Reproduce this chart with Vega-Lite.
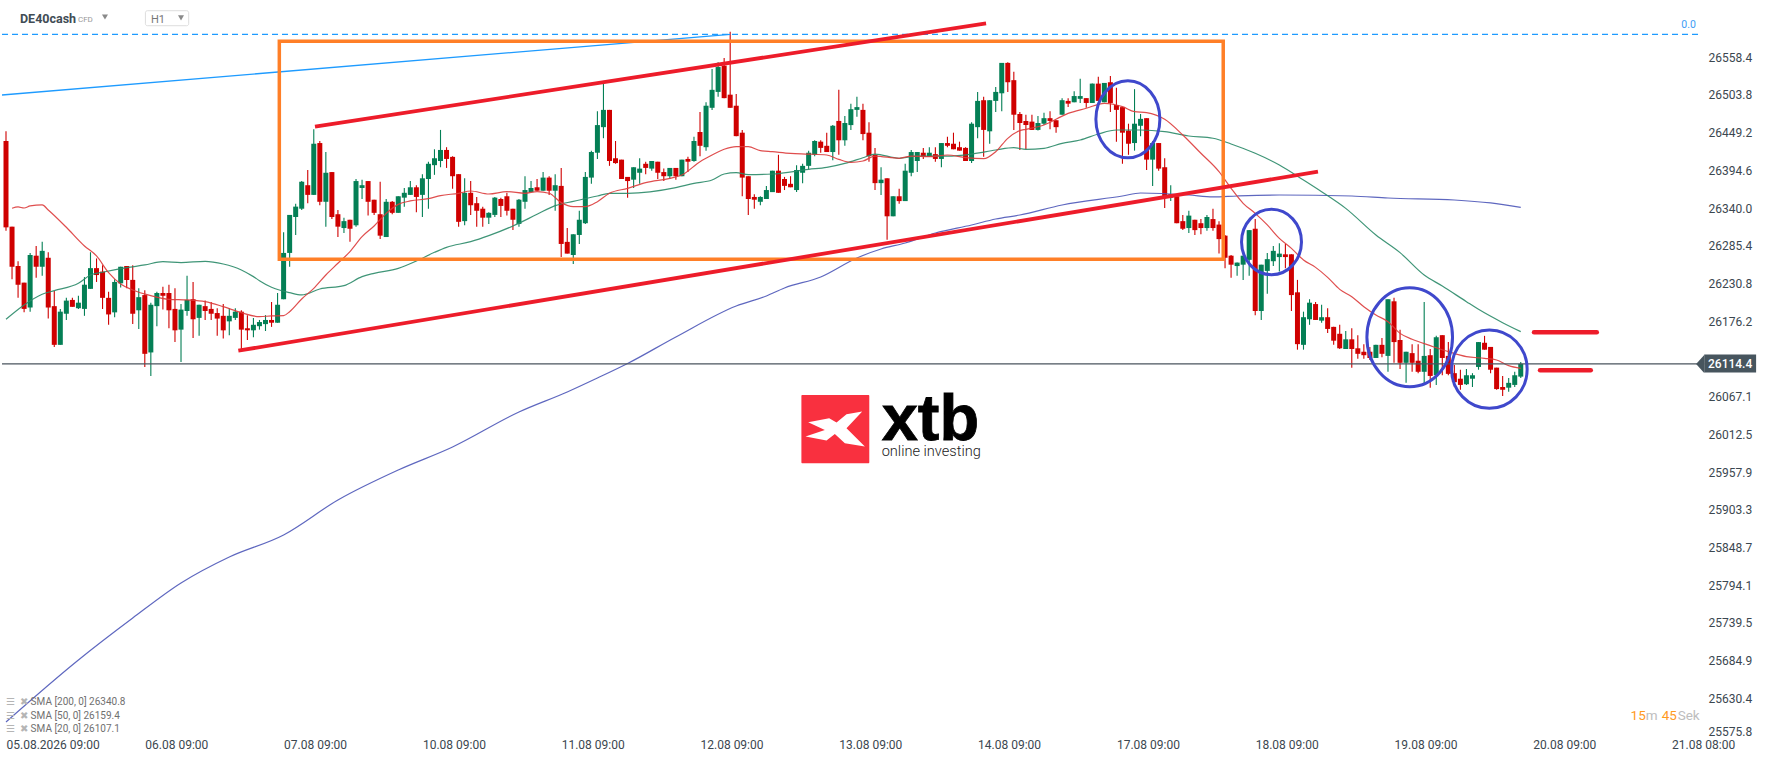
{"$schema":"https://vega.github.io/schema/vega-lite/v6.json","width":1768,"height":761,"padding":0,"autosize":{"type":"none"},"background":"#ffffff","config":{"view":{"stroke":null},"text":{"font":"Roboto"},"axis":{"labelFont":"Roboto"}},
"datasets":{"candles":[
{"i":0,"h":26451,"o":26437,"c":26312,"l":26307},{"i":1,"h":26313,"o":26313,"c":26255,"l":26237},{"i":2,"h":26263,"o":26256,"c":26229,"l":26210},{"i":3,"h":26232,"o":26232,"c":26194,"l":26189},{"i":4,"h":26275,"o":26196,"c":26272,"l":26190},{"i":5,"h":26285,"o":26271,"c":26255,"l":26239},{"i":6,"h":26291,"o":26255,"c":26278,"l":26242},{"i":7,"h":26276,"o":26268,"c":26196,"l":26180},{"i":8,"h":26220,"o":26198,"c":26142,"l":26139},{"i":9,"h":26194,"o":26142,"c":26190,"l":26142},
{"i":10,"h":26210,"o":26187,"c":26206,"l":26178},{"i":11,"h":26210,"o":26207,"c":26197,"l":26197},{"i":12,"h":26213,"o":26195,"c":26203,"l":26194},{"i":13,"h":26240,"o":26194,"c":26229,"l":26184},{"i":14,"h":26276,"o":26223,"c":26253,"l":26223},{"i":15,"h":26267,"o":26253,"c":26243,"l":26233},{"i":16,"h":26257,"o":26248,"c":26210,"l":26194},{"i":17,"h":26219,"o":26210,"c":26186,"l":26171},{"i":18,"h":26237,"o":26189,"c":26233,"l":26182},{"i":19,"h":26255,"o":26231,"c":26255,"l":26225},
{"i":20,"h":26256,"o":26256,"c":26236,"l":26224},{"i":21,"h":26257,"o":26236,"c":26187,"l":26172},{"i":22,"h":26224,"o":26192,"c":26211,"l":26165},{"i":23,"h":26221,"o":26214,"c":26129,"l":26110},{"i":24,"h":26203,"o":26131,"c":26200,"l":26097},{"i":25,"h":26219,"o":26198,"c":26217,"l":26169},{"i":26,"h":26226,"o":26217,"c":26213,"l":26193},{"i":27,"h":26229,"o":26217,"c":26192,"l":26166},{"i":28,"h":26224,"o":26194,"c":26163,"l":26146},{"i":29,"h":26201,"o":26164,"c":26193,"l":26117},
{"i":30,"h":26242,"o":26191,"c":26207,"l":26184},{"i":31,"h":26233,"o":26208,"c":26179,"l":26152},{"i":32,"h":26200,"o":26181,"c":26200,"l":26155},{"i":33,"h":26206,"o":26198,"c":26191,"l":26178},{"i":34,"h":26204,"o":26194,"c":26187,"l":26178},{"i":35,"h":26195,"o":26188,"c":26180,"l":26155},{"i":36,"h":26201,"o":26184,"c":26163,"l":26151},{"i":37,"h":26195,"o":26176,"c":26184,"l":26156},{"i":38,"h":26195,"o":26181,"c":26190,"l":26178},{"i":39,"h":26192,"o":26190,"c":26164,"l":26135},
{"i":40,"h":26185,"o":26166,"c":26163,"l":26149},{"i":41,"h":26181,"o":26163,"c":26171,"l":26153},{"i":42,"h":26178,"o":26169,"c":26175,"l":26164},{"i":43,"h":26185,"o":26172,"c":26178,"l":26162},{"i":44,"h":26204,"o":26178,"c":26174,"l":26168},{"i":45,"h":26217,"o":26174,"c":26200,"l":26174},{"i":46,"h":26305,"o":26208,"c":26275,"l":26208},{"i":47,"h":26330,"o":26275,"c":26330,"l":26255},{"i":48,"h":26346,"o":26327,"c":26342,"l":26301},{"i":49,"h":26379,"o":26339,"c":26378,"l":26337},
{"i":50,"h":26395,"o":26373,"c":26359,"l":26347},{"i":51,"h":26454,"o":26359,"c":26433,"l":26359},{"i":52,"h":26437,"o":26434,"c":26349,"l":26344},{"i":53,"h":26421,"o":26349,"c":26391,"l":26313},{"i":54,"h":26392,"o":26392,"c":26327,"l":26324},{"i":55,"h":26337,"o":26331,"c":26313,"l":26298},{"i":56,"h":26326,"o":26311,"c":26321,"l":26304},{"i":57,"h":26323,"o":26323,"c":26310,"l":26291},{"i":58,"h":26382,"o":26315,"c":26379,"l":26313},{"i":59,"h":26381,"o":26369,"c":26373,"l":26353},
{"i":60,"h":26379,"o":26379,"c":26349,"l":26329},{"i":61,"h":26352,"o":26352,"c":26333,"l":26330},{"i":62,"h":26378,"o":26331,"c":26300,"l":26295},{"i":63,"h":26353,"o":26298,"c":26349,"l":26298},{"i":64,"h":26350,"o":26349,"c":26333,"l":26331},{"i":65,"h":26357,"o":26333,"c":26357,"l":26333},{"i":66,"h":26369,"o":26355,"c":26362,"l":26342},{"i":67,"h":26379,"o":26359,"c":26370,"l":26359},{"i":68,"h":26373,"o":26370,"c":26356,"l":26334},{"i":69,"h":26389,"o":26359,"c":26383,"l":26327},
{"i":70,"h":26407,"o":26382,"c":26404,"l":26339},{"i":71,"h":26425,"o":26402,"c":26412,"l":26388},{"i":72,"h":26453,"o":26408,"c":26424,"l":26399},{"i":73,"h":26428,"o":26424,"c":26411,"l":26398},{"i":74,"h":26415,"o":26414,"c":26386,"l":26368},{"i":75,"h":26389,"o":26389,"c":26320,"l":26313},{"i":76,"h":26383,"o":26321,"c":26362,"l":26315},{"i":77,"h":26379,"o":26362,"c":26344,"l":26330},{"i":78,"h":26356,"o":26347,"c":26336,"l":26313},{"i":79,"h":26342,"o":26339,"c":26326,"l":26313},
{"i":80,"h":26334,"o":26326,"c":26333,"l":26317},{"i":81,"h":26356,"o":26330,"c":26355,"l":26327},{"i":82,"h":26355,"o":26353,"c":26343,"l":26327},{"i":83,"h":26362,"o":26357,"c":26336,"l":26329},{"i":84,"h":26339,"o":26339,"c":26323,"l":26308},{"i":85,"h":26353,"o":26317,"c":26352,"l":26313},{"i":86,"h":26386,"o":26349,"c":26366,"l":26339},{"i":87,"h":26379,"o":26363,"c":26369,"l":26363},{"i":88,"h":26382,"o":26370,"c":26365,"l":26365},{"i":89,"h":26392,"o":26365,"c":26384,"l":26365},
{"i":90,"h":26386,"o":26384,"c":26365,"l":26359},{"i":91,"h":26389,"o":26365,"c":26373,"l":26336},{"i":92,"h":26398,"o":26372,"c":26288,"l":26269},{"i":93,"h":26311,"o":26291,"c":26274,"l":26274},{"i":94,"h":26302,"o":26272,"c":26302,"l":26259},{"i":95,"h":26336,"o":26301,"c":26323,"l":26288},{"i":96,"h":26392,"o":26318,"c":26385,"l":26317},{"i":97,"h":26423,"o":26384,"c":26421,"l":26375},{"i":98,"h":26480,"o":26420,"c":26460,"l":26411},{"i":99,"h":26520,"o":26457,"c":26482,"l":26441},
{"i":100,"h":26482,"o":26482,"c":26408,"l":26401},{"i":101,"h":26437,"o":26412,"c":26405,"l":26404},{"i":102,"h":26410,"o":26410,"c":26382,"l":26382},{"i":103,"h":26385,"o":26385,"c":26379,"l":26355},{"i":104,"h":26399,"o":26381,"c":26399,"l":26369},{"i":105,"h":26412,"o":26391,"c":26397,"l":26375},{"i":106,"h":26407,"o":26404,"c":26398,"l":26389},{"i":107,"h":26408,"o":26397,"c":26408,"l":26394},{"i":108,"h":26407,"o":26407,"c":26391,"l":26382},{"i":109,"h":26397,"o":26392,"c":26386,"l":26379},
{"i":110,"h":26398,"o":26386,"c":26398,"l":26382},{"i":111,"h":26398,"o":26398,"c":26386,"l":26381},{"i":112,"h":26410,"o":26386,"c":26410,"l":26386},{"i":113,"h":26414,"o":26411,"c":26407,"l":26392},{"i":114,"h":26443,"o":26408,"c":26437,"l":26407},{"i":115,"h":26479,"o":26450,"c":26430,"l":26415},{"i":116,"h":26493,"o":26428,"c":26488,"l":26423},{"i":117,"h":26541,"o":26485,"c":26511,"l":26482},{"i":118,"h":26551,"o":26508,"c":26544,"l":26501},{"i":119,"h":26557,"o":26546,"c":26499,"l":26499},
{"i":120,"h":26595,"o":26504,"c":26485,"l":26485},{"i":121,"h":26505,"o":26488,"c":26444,"l":26444},{"i":122,"h":26453,"o":26449,"c":26384,"l":26357},{"i":123,"h":26386,"o":26386,"c":26353,"l":26330},{"i":124,"h":26360,"o":26356,"c":26352,"l":26339},{"i":125,"h":26357,"o":26349,"c":26356,"l":26344},{"i":126,"h":26372,"o":26353,"c":26366,"l":26353},{"i":127,"h":26394,"o":26363,"c":26394,"l":26363},{"i":128,"h":26417,"o":26394,"c":26362,"l":26362},{"i":129,"h":26385,"o":26382,"c":26372,"l":26366},
{"i":130,"h":26386,"o":26375,"c":26370,"l":26370},{"i":131,"h":26402,"o":26366,"c":26395,"l":26363},{"i":132,"h":26404,"o":26391,"c":26401,"l":26376},{"i":133,"h":26423,"o":26401,"c":26420,"l":26396},{"i":134,"h":26438,"o":26417,"c":26437,"l":26415},{"i":135,"h":26438,"o":26436,"c":26427,"l":26420},{"i":136,"h":26449,"o":26430,"c":26421,"l":26421},{"i":137,"h":26460,"o":26421,"c":26459,"l":26409},{"i":138,"h":26511,"o":26466,"c":26438,"l":26417},{"i":139,"h":26473,"o":26438,"c":26463,"l":26430},
{"i":140,"h":26491,"o":26460,"c":26483,"l":26453},{"i":141,"h":26501,"o":26482,"c":26486,"l":26472},{"i":142,"h":26491,"o":26482,"c":26447,"l":26438},{"i":143,"h":26464,"o":26449,"c":26415,"l":26407},{"i":144,"h":26427,"o":26417,"c":26376,"l":26366},{"i":145,"h":26399,"o":26376,"c":26381,"l":26359},{"i":146,"h":26383,"o":26383,"c":26328,"l":26294},{"i":147,"h":26357,"o":26328,"c":26357,"l":26328},{"i":148,"h":26368,"o":26357,"c":26350,"l":26346},{"i":149,"h":26404,"o":26350,"c":26394,"l":26350},
{"i":150,"h":26424,"o":26391,"c":26421,"l":26386},{"i":151,"h":26421,"o":26408,"c":26421,"l":26392},{"i":152,"h":26427,"o":26420,"c":26414,"l":26411},{"i":153,"h":26428,"o":26414,"c":26420,"l":26414},{"i":154,"h":26428,"o":26418,"c":26411,"l":26407},{"i":155,"h":26434,"o":26411,"c":26434,"l":26399},{"i":156,"h":26443,"o":26434,"c":26430,"l":26428},{"i":157,"h":26449,"o":26433,"c":26425,"l":26425},{"i":158,"h":26436,"o":26428,"c":26423,"l":26423},{"i":159,"h":26428,"o":26427,"c":26408,"l":26408},
{"i":160,"h":26464,"o":26408,"c":26462,"l":26405},{"i":161,"h":26508,"o":26457,"c":26495,"l":26441},{"i":162,"h":26501,"o":26496,"c":26453,"l":26414},{"i":163,"h":26496,"o":26451,"c":26496,"l":26433},{"i":164,"h":26515,"o":26495,"c":26508,"l":26479},{"i":165,"h":26550,"o":26506,"c":26550,"l":26480},{"i":166,"h":26551,"o":26550,"c":26522,"l":26508},{"i":167,"h":26537,"o":26525,"c":26475,"l":26453},{"i":168,"h":26479,"o":26476,"c":26463,"l":26424},{"i":169,"h":26475,"o":26466,"c":26460,"l":26425},
{"i":170,"h":26475,"o":26465,"c":26453,"l":26453},{"i":171,"h":26473,"o":26453,"c":26463,"l":26452},{"i":172,"h":26478,"o":26462,"c":26470,"l":26460},{"i":173,"h":26480,"o":26470,"c":26466,"l":26454},{"i":174,"h":26467,"o":26467,"c":26457,"l":26449},{"i":175,"h":26499,"o":26475,"c":26496,"l":26475},{"i":176,"h":26499,"o":26495,"c":26491,"l":26486},{"i":177,"h":26509,"o":26493,"c":26502,"l":26493},{"i":178,"h":26527,"o":26498,"c":26502,"l":26492},{"i":179,"h":26499,"o":26499,"c":26492,"l":26485},
{"i":180,"h":26520,"o":26492,"c":26520,"l":26492},{"i":181,"h":26530,"o":26520,"c":26495,"l":26495},{"i":182,"h":26521,"o":26493,"c":26521,"l":26493},{"i":183,"h":26531,"o":26522,"c":26492,"l":26479},{"i":184,"h":26514,"o":26489,"c":26482,"l":26436},{"i":185,"h":26486,"o":26486,"c":26449,"l":26404},{"i":186,"h":26462,"o":26452,"c":26433,"l":26417},{"i":187,"h":26512,"o":26434,"c":26462,"l":26423},{"i":188,"h":26476,"o":26459,"c":26469,"l":26444},{"i":189,"h":26470,"o":26470,"c":26410,"l":26395},
{"i":190,"h":26437,"o":26410,"c":26434,"l":26372},{"i":191,"h":26434,"o":26434,"c":26397,"l":26394},{"i":192,"h":26412,"o":26399,"c":26357,"l":26340},{"i":193,"h":26373,"o":26355,"c":26360,"l":26350},{"i":194,"h":26357,"o":26357,"c":26318,"l":26318},{"i":195,"h":26330,"o":26321,"c":26310,"l":26308},{"i":196,"h":26336,"o":26311,"c":26329,"l":26304},{"i":197,"h":26323,"o":26323,"c":26308,"l":26301},{"i":198,"h":26324,"o":26318,"c":26311,"l":26302},{"i":199,"h":26330,"o":26311,"c":26327,"l":26307},
{"i":200,"h":26339,"o":26324,"c":26311,"l":26307},{"i":201,"h":26321,"o":26316,"c":26295,"l":26274},{"i":202,"h":26301,"o":26300,"c":26268,"l":26253},{"i":203,"h":26272,"o":26271,"c":26258,"l":26239},{"i":204,"h":26261,"o":26256,"c":26261,"l":26242},{"i":205,"h":26271,"o":26258,"c":26271,"l":26236},{"i":206,"h":26308,"o":26265,"c":26308,"l":26242},{"i":207,"h":26324,"o":26310,"c":26191,"l":26185},{"i":208,"h":26258,"o":26191,"c":26258,"l":26178},{"i":209,"h":26275,"o":26249,"c":26266,"l":26216},
{"i":210,"h":26285,"o":26263,"c":26278,"l":26256},{"i":211,"h":26289,"o":26269,"c":26274,"l":26248},{"i":212,"h":26288,"o":26273,"c":26269,"l":26253},{"i":213,"h":26273,"o":26273,"c":26214,"l":26191},{"i":214,"h":26236,"o":26218,"c":26143,"l":26135},{"i":215,"h":26190,"o":26142,"c":26182,"l":26135},{"i":216,"h":26208,"o":26179,"c":26203,"l":26171},{"i":217,"h":26204,"o":26201,"c":26178,"l":26178},{"i":218,"h":26200,"o":26177,"c":26182,"l":26174},{"i":219,"h":26195,"o":26182,"c":26165,"l":26159},
{"i":220,"h":26168,"o":26168,"c":26148,"l":26142},{"i":221,"h":26171,"o":26158,"c":26137,"l":26136},{"i":222,"h":26162,"o":26136,"c":26150,"l":26136},{"i":223,"h":26166,"o":26150,"c":26136,"l":26109},{"i":224,"h":26156,"o":26137,"c":26129,"l":26122},{"i":225,"h":26143,"o":26132,"c":26127,"l":26122},{"i":226,"h":26139,"o":26132,"c":26123,"l":26120},{"i":227,"h":26142,"o":26123,"c":26142,"l":26123},{"i":228,"h":26152,"o":26142,"c":26129,"l":26124},{"i":229,"h":26208,"o":26126,"c":26208,"l":26103},
{"i":230,"h":26210,"o":26205,"c":26146,"l":26116},{"i":231,"h":26164,"o":26149,"c":26116,"l":26107},{"i":232,"h":26132,"o":26116,"c":26132,"l":26087},{"i":233,"h":26143,"o":26130,"c":26116,"l":26103},{"i":234,"h":26143,"o":26119,"c":26103,"l":26101},{"i":235,"h":26204,"o":26103,"c":26126,"l":26084},{"i":236,"h":26136,"o":26127,"c":26097,"l":26080},{"i":237,"h":26155,"o":26098,"c":26153,"l":26084},{"i":238,"h":26156,"o":26156,"c":26123,"l":26098},{"i":239,"h":26146,"o":26126,"c":26100,"l":26098},
{"i":240,"h":26113,"o":26101,"c":26088,"l":26081},{"i":241,"h":26106,"o":26093,"c":26084,"l":26077},{"i":242,"h":26107,"o":26085,"c":26098,"l":26084},{"i":243,"h":26101,"o":26093,"c":26098,"l":26081},{"i":244,"h":26146,"o":26110,"c":26146,"l":26106},{"i":245,"h":26155,"o":26145,"c":26135,"l":26135},{"i":246,"h":26139,"o":26139,"c":26106,"l":26101},{"i":247,"h":26109,"o":26109,"c":26078,"l":26077},{"i":248,"h":26097,"o":26081,"c":26077,"l":26068},{"i":249,"h":26094,"o":26080,"c":26087,"l":26074},
{"i":250,"h":26103,"o":26084,"c":26098,"l":26081},{"i":251,"h":26117,"o":26096,"c":26114.4,"l":26094}],
"sma20":[{"i":1,"v":26339.6},{"i":2,"v":26341.5},{"i":3,"v":26340},{"i":4,"v":26343},{"i":6,"v":26344.4},{"i":7,"v":26337.2},{"i":10,"v":26312.1},{"i":13,"v":26285.1},{"i":15,"v":26270.6},{"i":17,"v":26246.5},{"i":19,"v":26230.1},{"i":21,"v":26221.4},{"i":24,"v":26213.2},{"i":27,"v":26207.9},{"i":30,"v":26207},{"i":33,"v":26204.6},{"i":36,"v":26197.3},{"i":39,"v":26188.6},{"i":42,"v":26182.8},{"i":44,"v":26183.8},{"i":46,"v":26184.3},{"i":47,"v":26190},{"i":49,"v":26208.4},{"i":51,"v":26223.8},{"i":53,"v":26243.1},{"i":55,"v":26260},{"i":57,"v":26276.9},{"i":59,"v":26298.6},{"i":61,"v":26314},{"i":63,"v":26332.3},{"i":65,"v":26345.3},{"i":67,"v":26350.2},{"i":70,"v":26353.5},{"i":72,"v":26357.9},{"i":75,"v":26361.3},{"i":77,"v":26364.6},{"i":80,"v":26360.3},{"i":83,"v":26363.7},{"i":86,"v":26361.3},{"i":88,"v":26363.7},{"i":90,"v":26361.3},{"i":92,"v":26347.8},{"i":94,"v":26342},{"i":96,"v":26342},{"i":98,"v":26349.2},{"i":100,"v":26361.3},{"i":103,"v":26368.5},{"i":106,"v":26376.7},{"i":110,"v":26383},{"i":112,"v":26387.8},{"i":115,"v":26407.1},{"i":117,"v":26416.7},{"i":119,"v":26425},{"i":121,"v":26428.8},{"i":123,"v":26428.8},{"i":125,"v":26423},{"i":127,"v":26421.5},{"i":130,"v":26419.1},{"i":133,"v":26418.1},{"i":136,"v":26416.7},{"i":138,"v":26410.4},{"i":140,"v":26406.1},{"i":142,"v":26408},{"i":144,"v":26415.2},{"i":148,"v":26411.9},{"i":150,"v":26415.2},{"i":153,"v":26414.3},{"i":156,"v":26416.7},{"i":159,"v":26412.8},{"i":162,"v":26411.4},{"i":164,"v":26421.5},{"i":166,"v":26440.8},{"i":168,"v":26451.9},{"i":169,"v":26453.9},{"i":172,"v":26460.1},{"i":176,"v":26477},{"i":179,"v":26484.3},{"i":182,"v":26491.5},{"i":185,"v":26486.7},{"i":187,"v":26479.4},{"i":189,"v":26478},{"i":192,"v":26468.4},{"i":195,"v":26445.7},{"i":198,"v":26419.2},{"i":201,"v":26392.6},{"i":203,"v":26368.5},{"i":205,"v":26346.8},{"i":207,"v":26332.3},{"i":209,"v":26315.5},{"i":211,"v":26296.1},{"i":213,"v":26281.6},{"i":215,"v":26264.8},{"i":217,"v":26254.1},{"i":219,"v":26239.7},{"i":221,"v":26222.3},{"i":223,"v":26211.7},{"i":225,"v":26197.2},{"i":227,"v":26185.2},{"i":229,"v":26175.5},{"i":231,"v":26158.6},{"i":233,"v":26150},{"i":236,"v":26140.8},{"i":239,"v":26132.1},{"i":242,"v":26124.9},{"i":245,"v":26122.5},{"i":247,"v":26120.1},{"i":249,"v":26111.9},{"i":251,"v":26108}],
"sma50":[{"i":0,"v":26179},{"i":3,"v":26199.7},{"i":6,"v":26215.2},{"i":8,"v":26220.5},{"i":12,"v":26231.1},{"i":14,"v":26243.1},{"i":16,"v":26247},{"i":20,"v":26253.7},{"i":23,"v":26257.6},{"i":26,"v":26262.4},{"i":29,"v":26261},{"i":33,"v":26262.9},{"i":36,"v":26259},{"i":39,"v":26250.4},{"i":41,"v":26240.7},{"i":42,"v":26234.9},{"i":44,"v":26225.3},{"i":47,"v":26217.5},{"i":49,"v":26214.2},{"i":52,"v":26222.8},{"i":56,"v":26227.7},{"i":59,"v":26240.7},{"i":61,"v":26245.5},{"i":65,"v":26252.7},{"i":68,"v":26263.3},{"i":71,"v":26275.9},{"i":73,"v":26283.1},{"i":77,"v":26291.3},{"i":80,"v":26300},{"i":84,"v":26314},{"i":88,"v":26330.9},{"i":91,"v":26343.4},{"i":94,"v":26349.7},{"i":98,"v":26357.4},{"i":100,"v":26361.3},{"i":103,"v":26361.3},{"i":111,"v":26369.5},{"i":114,"v":26375.7},{"i":117,"v":26380.6},{"i":119,"v":26389.2},{"i":121,"v":26391.2},{"i":123,"v":26388.3},{"i":127,"v":26389.2},{"i":133,"v":26395.9},{"i":136,"v":26398.8},{"i":139,"v":26404.6},{"i":142,"v":26412.8},{"i":144,"v":26418.1},{"i":148,"v":26411.9},{"i":151,"v":26415.2},{"i":156,"v":26415.2},{"i":160,"v":26418.1},{"i":164,"v":26423.9},{"i":167,"v":26427.3},{"i":169,"v":26424.9},{"i":172,"v":26426.4},{"i":175,"v":26433.6},{"i":178,"v":26438.4},{"i":181,"v":26447.1},{"i":184,"v":26452.9},{"i":188,"v":26452.9},{"i":192,"v":26450.5},{"i":196,"v":26444.2},{"i":200,"v":26440.9},{"i":203,"v":26432.7},{"i":207,"v":26419.2},{"i":211,"v":26402.3},{"i":215,"v":26380.5},{"i":218,"v":26363.6},{"i":222,"v":26339.5},{"i":227,"v":26300.9},{"i":231,"v":26275.4},{"i":235,"v":26243},{"i":238,"v":26227.1},{"i":242,"v":26204.5},{"i":244,"v":26193.4},{"i":248,"v":26174.1},{"i":251,"v":26161.1}],
"sma200":[{"i":0,"v":25596.3},{"i":12,"v":25686},{"i":21,"v":25746.7},{"i":29,"v":25797.4},{"i":37,"v":25835},{"i":46,"v":25866.9},{"i":55,"v":25917.5},{"i":65,"v":25960.9},{"i":74,"v":25994.2},{"i":85,"v":26044.8},{"i":93,"v":26073.8},{"i":98,"v":26094},{"i":103,"v":26115},{"i":111,"v":26153.4},{"i":121,"v":26198.2},{"i":126,"v":26212.7},{"i":129,"v":26224.3},{"i":135,"v":26240.2},{"i":141,"v":26267.7},{"i":145,"v":26280.7},{"i":149,"v":26289.4},{"i":154,"v":26303.8},{"i":160,"v":26315.4},{"i":164,"v":26324.1},{"i":168,"v":26329.9},{"i":175,"v":26344.4},{"i":185,"v":26357.4},{"i":188,"v":26361.7},{"i":196,"v":26358.8},{"i":200,"v":26356},{"i":204,"v":26357.4},{"i":211,"v":26358.8},{"i":223,"v":26357.4},{"i":229,"v":26354.5},{"i":240,"v":26351.6},{"i":246,"v":26347.3},{"i":251,"v":26341}]},
"layer":[
{"data":{"name":"candles"},"mark":{"type":"rule","strokeWidth":1.1},"encoding":{"x":{"field":"i","type":"quantitative","scale":{"domain":[-0.994,291.97],"nice":false,"zero":false,"padding":0},"axis":{"orient":"bottom","offset":-16.3,"title":null,"grid":false,"domain":false,"ticks":false,"labelPadding":0,"labelAlign":"left","labelBaseline":"middle","labelFontSize":12,"labelColor":"#3b4750","labelOverlap":false,"labelFlush":false,"labelBound":false,"values":[0,23,46,69,92,115,138,161,184,207,230,253,276],"labelExpr":"{'0':'05.08.2026 09:00','23':'06.08 09:00','46':'07.08 09:00','69':'10.08 09:00','92':'11.08 09:00','115':'12.08 09:00','138':'13.08 09:00','161':'14.08 09:00','184':'17.08 09:00','207':'18.08 09:00','230':'19.08 09:00','253':'20.08 09:00','276':'21.08 08:00'}[''+datum.value]"}},"y":{"field":"h","type":"quantitative","scale":{"domain":[25539.8,26641],"nice":false,"zero":false},"axis":{"orient":"right","offset":-60,"title":null,"grid":false,"domain":false,"ticks":false,"labelPadding":0,"labelAlign":"left","labelFontSize":12,"labelColor":"#3b4750","labelOverlap":false,"labelFlush":false,"labelBound":false,"values":[25582,25630.4,25684.9,25739.5,25794.1,25848.7,25903.3,25957.9,26012.5,26067.1,26176.2,26230.8,26285.4,26340,26394.6,26449.2,26503.8,26558.4],"labelExpr":"datum.value==25582?'25575.8':format(datum.value,'.1f')"}},"y2":{"field":"l"},"color":{"condition":{"test":"datum.c>=datum.o","value":"#047f55"},"value":"#cf0000"}}},
{"data":{"name":"candles"},"mark":{"type":"bar","size":5},"encoding":{"x":{"field":"i","type":"quantitative"},"y":{"field":"o","type":"quantitative"},"y2":{"field":"c"},"color":{"condition":{"test":"datum.c>=datum.o","value":"#047f55"},"value":"#cf0000"}}},
{"data":{"name":"sma200"},"mark":{"type":"line","stroke":"#4c56b8","strokeWidth":1.2,"opacity":0.9,"interpolate":"monotone"},"encoding":{"x":{"field":"i","type":"quantitative"},"y":{"field":"v","type":"quantitative"}}},
{"data":{"name":"sma50"},"mark":{"type":"line","stroke":"#2a8a68","strokeWidth":1.2,"opacity":0.9,"interpolate":"monotone"},"encoding":{"x":{"field":"i","type":"quantitative"},"y":{"field":"v","type":"quantitative"}}},
{"data":{"name":"sma20"},"mark":{"type":"line","stroke":"#dc3b3b","strokeWidth":1.2,"opacity":0.9,"interpolate":"monotone"},"encoding":{"x":{"field":"i","type":"quantitative"},"y":{"field":"v","type":"quantitative"}}},
{"data":{"values":[{"a":-0.66,"b":120,"p":26503.5,"q":26591.4}]},"mark":{"type":"rule","stroke":"#1e9bff","strokeWidth":1.3},"encoding":{"x":{"field":"a","type":"quantitative"},"x2":{"field":"b"},"y":{"field":"p","type":"quantitative"},"y2":{"field":"q"}}},
{"data":{"values":[{"a":-0.66,"b":280.7,"p":26591.4}]},"mark":{"type":"rule","stroke":"#1e9bff","strokeWidth":1.2,"strokeDash":[6,4]},"encoding":{"x":{"field":"a","type":"quantitative"},"x2":{"field":"b"},"y":{"field":"p","type":"quantitative"}}},
{"data":{"values":[{"a":-0.66,"b":281.4,"p":26114.4}]},"mark":{"type":"rule","stroke":"#4a545e","strokeWidth":1.2},"encoding":{"x":{"field":"a","type":"quantitative"},"x2":{"field":"b"},"y":{"field":"p","type":"quantitative"}}},
{"data":{"values":[{"a":45.29,"b":201.7,"p":26581.2,"q":26265.8}]},"mark":{"type":"rect","fillOpacity":0,"stroke":"#ff7f27","strokeWidth":3.5},"encoding":{"x":{"field":"a","type":"quantitative"},"x2":{"field":"b"},"y":{"field":"p","type":"quantitative"},"y2":{"field":"q"}}},
{"data":{"values":[{"a":51.2,"b":162.4,"p":26457.7,"q":26607.3},{"a":38.5,"b":217.4,"p":26133.5,"q":26392.6}]},"mark":{"type":"rule","stroke":"#ed1c2a","strokeWidth":3.8},"encoding":{"x":{"field":"a","type":"quantitative"},"x2":{"field":"b"},"y":{"field":"p","type":"quantitative"},"y2":{"field":"q"}}},
{"data":{"values":[{"a":253.2,"b":263.6,"p":26160.2},{"a":254.2,"b":262.6,"p":26105.2}]},"mark":{"type":"rule","stroke":"#ed1c2a","strokeWidth":4.5,"strokeCap":"round"},"encoding":{"x":{"field":"a","type":"quantitative"},"x2":{"field":"b"},"y":{"field":"p","type":"quantitative"}}},
{"data":{"values":[{"i":185.9,"p":26468.5}]},"mark":{"type":"point","filled":false,"opacity":1,"stroke":"#3f48cc","strokeWidth":3,"size":5929,"shape":"M0,-1C.459,-1,.831,-.5523,.831,0C.831,.5523,.459,1,0,1C-.459,1,-.831,.5523,-.831,0C-.831,-.5523,-.459,-1,0,-1Z"},"encoding":{"x":{"field":"i","type":"quantitative"},"y":{"field":"p","type":"quantitative"}}},
{"data":{"values":[{"i":209.7,"p":26290.8}]},"mark":{"type":"point","filled":false,"opacity":1,"stroke":"#3f48cc","strokeWidth":3,"size":4277,"shape":"M0,-1C.5065,-1,.917,-.5523,.917,0C.917,.5523,.5065,1,0,1C-.5065,1,-.917,.5523,-.917,0C-.917,-.5523,-.5065,-1,0,-1Z"},"encoding":{"x":{"field":"i","type":"quantitative"},"y":{"field":"p","type":"quantitative"}}},
{"data":{"values":[{"i":232.6,"p":26153.1}]},"mark":{"type":"point","filled":false,"opacity":1,"stroke":"#3f48cc","strokeWidth":3,"size":9801,"shape":"M0,-1C.4777,-1,.865,-.5523,.865,0C.865,.5523,.4777,1,0,1C-.4777,1,-.865,.5523,-.865,0C-.865,-.5523,-.4777,-1,0,-1Z"},"encoding":{"x":{"field":"i","type":"quantitative"},"y":{"field":"p","type":"quantitative"}}},
{"data":{"values":[{"i":245.8,"p":26106.8}]},"mark":{"type":"point","filled":false,"opacity":1,"stroke":"#3f48cc","strokeWidth":3,"size":6147,"shape":"M0,-1C.5324,-1,.964,-.5523,.964,0C.964,.5523,.5324,1,0,1C-.5324,1,-.964,.5523,-.964,0C-.964,-.5523,-.5324,-1,0,-1Z"},"encoding":{"x":{"field":"i","type":"quantitative"},"y":{"field":"p","type":"quantitative"}}},
{"data":{"values":[{"a":281.4,"b":290,"p":26128,"q":26102}]},"mark":{"type":"rect","fill":"#47555e"},"encoding":{"x":{"field":"a","type":"quantitative"},"x2":{"field":"b"},"y":{"field":"p","type":"quantitative"},"y2":{"field":"q"}}},
{"data":{"values":[{"i":281.4,"p":26114.4}]},"mark":{"type":"point","filled":true,"opacity":1,"fill":"#47555e","stroke":null,"size":324,"shape":"M-.9,0L0,-1L0,1Z"},"encoding":{"x":{"field":"i","type":"quantitative"},"y":{"field":"p","type":"quantitative"}}},
{"data":{"values":[{"i":282.03,"p":26114.3,"t":"26114.4"}]},"mark":{"type":"text","align":"left","baseline":"middle","fontSize":12,"fontWeight":500,"fill":"#ffffff"},"encoding":{"x":{"field":"i","type":"quantitative"},"y":{"field":"p","type":"quantitative"},"text":{"field":"t"}}},
{"data":{"values":[{"a":131.8,"b":143.05,"p":26069.4,"q":25970.6}]},"mark":{"type":"rect","fill":"#f9303f","cornerRadius":1},"encoding":{"x":{"field":"a","type":"quantitative"},"x2":{"field":"b"},"y":{"field":"p","type":"quantitative"},"y2":{"field":"q"}}},
{"data":{"values":[{"i":137.4,"p":26019.8}]},"mark":{"type":"point","filled":true,"opacity":1,"fill":"#ffffff","stroke":null,"size":4444,"shape":"M-.81,-.21L-.18,-.33L.04,-.2L.34,-.45L.81,-.53L.34,-.03L.89,.52L.29,.42L-.01,.14L-.26,.34L-.89,.22L-.31,.02Z"},"encoding":{"x":{"field":"i","type":"quantitative"},"y":{"field":"p","type":"quantitative"}}},
{"data":{"values":[{"i":145.1,"p":26004.3,"t":"xtb"}]},"mark":{"type":"text","align":"left","baseline":"alphabetic","font":"Liberation Sans","fontWeight":"bold","fontSize":65,"fill":"#000000","stroke":"#000000","strokeWidth":0.8},"encoding":{"x":{"field":"i","type":"quantitative"},"y":{"field":"p","type":"quantitative"},"text":{"field":"t"}}},
{"data":{"values":[{"i":145.1,"p":25981.2,"t":"online investing"}]},"mark":{"type":"text","align":"left","baseline":"alphabetic","fontSize":14.6,"fontWeight":300,"fill":"#222222"},"encoding":{"x":{"field":"i","type":"quantitative"},"y":{"field":"p","type":"quantitative"},"text":{"field":"t"}}},
{"data":{"values":[{"i":2.32,"p":26613.5,"t":"DE40cash"}]},"mark":{"type":"text","align":"left","baseline":"middle","fontSize":12.5,"fontWeight":"bold","fill":"#414c55"},"encoding":{"x":{"field":"i","type":"quantitative"},"y":{"field":"p","type":"quantitative"},"text":{"field":"t"}}},
{"data":{"values":[{"i":11.93,"p":26612.1,"t":"CFD"}]},"mark":{"type":"text","align":"left","baseline":"middle","fontSize":8,"fill":"#999999"},"encoding":{"x":{"field":"i","type":"quantitative"},"y":{"field":"p","type":"quantitative"},"text":{"field":"t"}}},
{"data":{"values":[{"a":23.1,"b":30.27,"p":26625.5,"q":26603.8}]},"mark":{"type":"rect","fillOpacity":0,"stroke":"#dddddd","strokeWidth":1,"cornerRadius":2},"encoding":{"x":{"field":"a","type":"quantitative"},"x2":{"field":"b"},"y":{"field":"p","type":"quantitative"},"y2":{"field":"q"}}},
{"data":{"values":[{"i":24.03,"p":26612.1,"t":"H1"}]},"mark":{"type":"text","align":"left","baseline":"middle","fontSize":11,"fill":"#777777"},"encoding":{"x":{"field":"i","type":"quantitative"},"y":{"field":"p","type":"quantitative"},"text":{"field":"t"}}},
{"data":{"values":[{"i":16.4,"p":26616.4},{"i":29,"p":26615}]},"mark":{"type":"point","filled":true,"opacity":1,"fill":"#8a8a8a","stroke":null,"size":36,"shape":"triangle-down"},"encoding":{"x":{"field":"i","type":"quantitative"},"y":{"field":"p","type":"quantitative"}}},
{"data":{"values":[{"i":277.6,"p":26604.4,"t":"0.0"}]},"mark":{"type":"text","align":"left","baseline":"middle","fontSize":10.5,"fill":"#3d9cf5"},"encoding":{"x":{"field":"i","type":"quantitative"},"y":{"field":"p","type":"quantitative"},"text":{"field":"t"}}},
{"data":{"values":[{"i":4.08,"p":25625.6,"t":"SMA [200, 0] 26340.8"},{"i":4.08,"p":25605.4,"t":"SMA [50, 0] 26159.4"},{"i":4.08,"p":25585.7,"t":"SMA [20, 0] 26107.1"}]},"mark":{"type":"text","align":"left","baseline":"middle","fontSize":10,"fill":"#707070"},"encoding":{"x":{"field":"i","type":"quantitative"},"y":{"field":"p","type":"quantitative"},"text":{"field":"t"}}},
{"data":{"values":[{"i":0,"p":25625.6,"t":"☰"},{"i":0,"p":25605.4,"t":"☰"},{"i":0,"p":25585.7,"t":"☰"},{"i":2.3,"p":25625.6,"t":"✖"},{"i":2.3,"p":25605.4,"t":"✖"},{"i":2.3,"p":25585.7,"t":"✖"}]},"mark":{"type":"text","align":"left","baseline":"middle","font":"DejaVu Sans","fontSize":10,"fill":"#b5b5b5"},"encoding":{"x":{"field":"i","type":"quantitative"},"y":{"field":"p","type":"quantitative"},"text":{"field":"t"}}},
{"data":{"values":[{"i":269.2,"p":25604.9,"t":"15"},{"i":274.35,"p":25604.9,"t":"45"}]},"mark":{"type":"text","align":"left","baseline":"middle","fontSize":13.5,"fill":"#ff9a1f"},"encoding":{"x":{"field":"i","type":"quantitative"},"y":{"field":"p","type":"quantitative"},"text":{"field":"t"}}},
{"data":{"values":[{"i":271.7,"p":25604.9,"t":"m"},{"i":277,"p":25604.9,"t":"Sek"}]},"mark":{"type":"text","align":"left","baseline":"middle","fontSize":13.5,"fill":"#bdbdbd"},"encoding":{"x":{"field":"i","type":"quantitative"},"y":{"field":"p","type":"quantitative"},"text":{"field":"t"}}}
]}
